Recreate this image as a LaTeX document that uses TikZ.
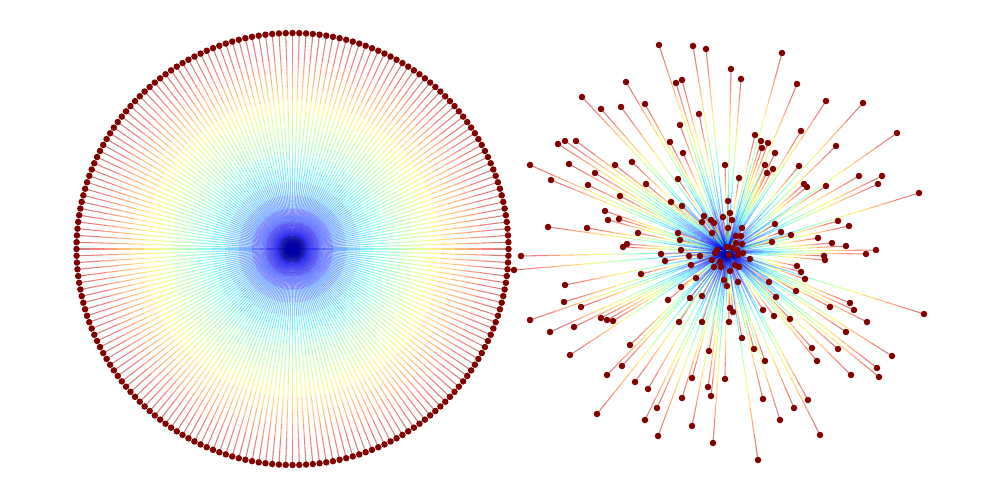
\documentclass[tikz,border=0pt]{standalone}
\pgfdeclarelayer{background}
\pgfsetlayers{background,main}
\definecolor{jet0}{rgb}{0,0,0.642}
\definecolor{jet1}{rgb}{0,0,0.926}
\definecolor{jet2}{rgb}{0,0.125,1}
\definecolor{jet3}{rgb}{0,0.375,1}
\definecolor{jet4}{rgb}{0,0.625,1}
\definecolor{jet5}{rgb}{0,0.875,0.988}
\definecolor{jet6}{rgb}{0.181,1,0.786}
\definecolor{jet7}{rgb}{0.383,1,0.585}
\definecolor{jet8}{rgb}{0.585,1,0.383}
\definecolor{jet9}{rgb}{0.786,1,0.181}
\definecolor{jet10}{rgb}{0.988,0.94,0}
\definecolor{jet11}{rgb}{1,0.708,0}
\definecolor{jet12}{rgb}{1,0.477,0}
\definecolor{jet13}{rgb}{1,0.245,0}
\definecolor{jet14}{rgb}{0.926,0,0}
\definecolor{jet15}{rgb}{0.642,0,0}
\definecolor{dotred}{rgb}{0.5,0,0}
\def\rlist{659/45,693/46,706/49,782/53,731/69,741/79,626/82,676/83,682/80,797/84,
582/97,826/101,863/103,601/109,621/107,645/104,699/114,680/125,801/131,897/133,
755/135,761/141,768/143,762/148,670/142,558/144,565/141,576/141,836/146,683/153,
775/153,569/164,530/165,615/165,632/162,725/165,765/165,799/166,773/169,767/173,
595/173,859/176,882/176,678/179,739/178,551/180,878/184,804/184,807/187,826/186,
588/185,646/184,919/193,620/196,671/202,682/206,728/201,605/211,608/220,619/219,
704/216,702/222,711/220,714/223,723/217,730/213,732/220,838/221,775/224,849/226,
548/227,587/228,728/228,742/228,712/233,638/233,678/233,781/232,791/235,741/236,
736/236,818/238,680/240,772/242,832/243,736/243,742/244,627/244,623/247,846/246,
727/247,732/248,717/250,876/250,737/250,681/250,715/253,743/253,661/254,866/254,
738/255,729/255,689/256,700/256,521/256,824/256,825/260,750/259,665/261,712/260,
720/262,721/267,714/267,691/265,735/265,739/267,797/266,514/270,730/271,801/272,
641/274,696/278,724/280,805/279,738/282,769/282,565/285,727/286,681/287,796/291,
702/296,690/298,668/300,776/297,564/302,850/303,581/307,830/307,730/308,733/312,
763/310,854/310,924/314,774/316,530/320,601/318,607/320,613/321,790/319,679/322,
702/322,729/322,867/322,574/327,550/332,846/332,742/338,630/345,812/348,838/349,
709/351,754/349,570/355,892/356,765/361,817/361,622/366,877/368,607/375,851/375,
879/377,692/378,725/379,635/382,708/387,648/389,711/396,682/398,763/399,808/400,
657/408,794/408,597/414,645/420,780/420,692/426,820/435,658/436,713/443,758/460}
% gradient edge from (#1,#2) to (#3,#4), in px
\newcommand\jetedge[4]{%
  \foreach \k in {0,...,15}{%
    \pgfmathsetmacro\xa{#1+(#3-#1)*\k/16}%
    \pgfmathsetmacro\ya{#2+(#4-#2)*\k/16}%
    \pgfmathsetmacro\xb{#1+(#3-#1)*(\k+1)/16}%
    \pgfmathsetmacro\yb{#2+(#4-#2)*(\k+1)/16}%
    \draw[seg,draw=jet\k] (\xa,\ya) -- (\xb,\yb);
  }}
\begin{document}
\begin{tikzpicture}[x=0.02cm,y=-0.02cm,
  dot/.style={circle,fill=dotred,draw=none,inner sep=0pt,minimum size=0.13cm},
  seg/.style={line width=0.6pt,draw opacity=0.5}]
\useasboundingbox (0,0) rectangle (1000,500);
\coordinate (LC) at (292.5,249);
\coordinate (RC) at (727,252);
\foreach \i in {0,...,199}
  \node[dot] (L\i) at ({292.5+216*cos(\i*1.8)},{249-216*sin(\i*1.8)}) {};
\foreach \px/\py [count=\i] in \rlist
  \node[dot] (R\i) at (\px,\py) {};
\begin{pgfonlayer}{background}
\fill[white] (0,0) rectangle (1000,500);
\foreach \i in {0,...,199}{%
  \pgfmathsetmacro\ex{292.5+216*cos(\i*1.8)}%
  \pgfmathsetmacro\ey{249-216*sin(\i*1.8)}%
  \jetedge{292.5}{249}{\ex}{\ey}}
\foreach \px/\py in \rlist
  {\jetedge{727}{252}{\px}{\py}}
\end{pgfonlayer}
\end{tikzpicture}
\end{document}
